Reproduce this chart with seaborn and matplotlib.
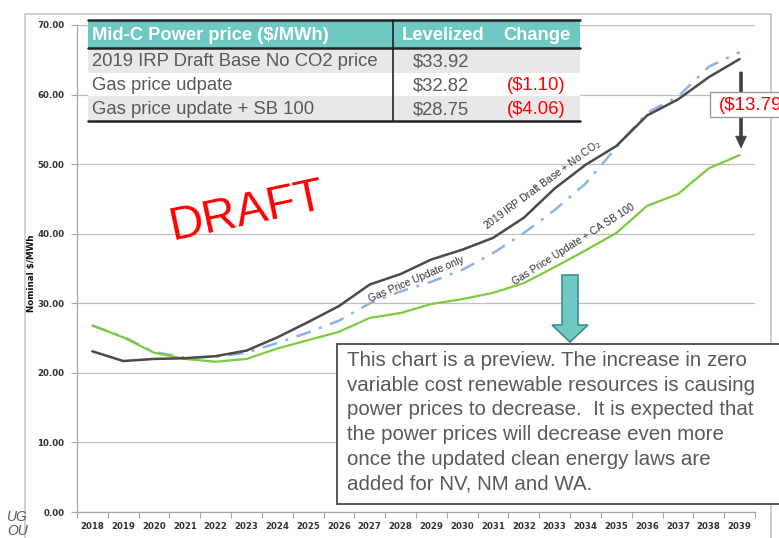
import numpy as np
import pandas as pd
import matplotlib
matplotlib.use("Agg")
import matplotlib.pyplot as plt
import seaborn as sns
from matplotlib.patches import Rectangle, FancyArrow

# --- data ---
years = list(range(2018, 2040))
irp_base = [23.1, 21.7, 22.0, 22.1, 22.4, 23.2, 25.1, 27.3, 29.6, 32.7, 34.2,
            36.3, 37.7, 39.4, 42.3, 46.5, 49.9, 52.6, 57.0, 59.3, 62.5, 65.1]
gas_update = [26.8, 25.2, 23.0, 22.2, 22.3, 22.9, 24.3, 25.8, 27.5, 30.0, 31.7,
              33.1, 34.8, 37.2, 40.1, 43.4, 47.2, 52.4, 57.4, 59.7, 64.0, 66.1]
gas_sb100 = [26.8, 25.1, 22.9, 22.0, 21.6, 22.0, 23.5, 24.7, 25.9, 27.9, 28.6,
             29.9, 30.6, 31.5, 32.9, 35.2, 37.6, 40.1, 44.0, 45.7, 49.4, 51.3]

table_header = ["Mid-C Power price ($/MWh)", "Levelized", "Change"]
table_rows = ["2019 IRP Draft Base No CO2 price", "Gas price udpate", "Gas price update + SB 100"]
table_levelized = ["$33.92", "$32.82", "$28.75"]
table_change = ["", "($1.10)", "($4.06)"]

note_text = ("This chart is a preview. The increase in zero\n"
             "variable cost renewable resources is causing\n"
             "power prices to decrease.  It is expected that\n"
             "the power prices will decrease even more\n"
             "once the updated clean energy laws are\n"
             "added for NV, NM and WA.")

df = pd.DataFrame({"year": years, "irp": irp_base, "gas": gas_update, "sb100": gas_sb100})

sns.set_theme(style="white")
plt.rcParams["font.family"] = ["Liberation Sans", "DejaVu Sans"]

W, H = 779, 538
fig = plt.figure(figsize=(W / 100, H / 100), dpi=100)


def fx(x):
    return x / W


def fy(y):
    return 1 - y / H


ax = fig.add_axes([fx(77), fy(512), fx(755) - fx(77), fy(25) - fy(512)])

sns.lineplot(data=df, x="year", y="gas", ax=ax, color="#8DB4E2", lw=1.8,
             linestyle=(0, (6, 3.5, 1.2, 3.5)), zorder=3)
sns.lineplot(data=df, x="year", y="sb100", ax=ax, color="#7DCB3F", lw=1.6, zorder=4)
sns.lineplot(data=df, x="year", y="irp", ax=ax, color="#4A4A4A", lw=1.8, zorder=5)

ax.set_xlim(2017.5, 2039.5)
ax.set_ylim(0, 70)
ax.set_yticks(np.arange(0, 71, 10))
ax.set_yticklabels([f"{v:.2f}" for v in np.arange(0, 71, 10)], fontsize=6.2,
                   color="#333333", fontweight="bold", family="DejaVu Sans")
ax.set_xticks(years)
ax.set_xticklabels([str(y) for y in years], fontsize=6.2, color="#333333",
                   fontweight="bold", family="DejaVu Sans")
ax.set_xticks(np.arange(2017.5, 2040, 1), minor=True)
ax.tick_params(axis="x", which="major", length=0, pad=7)
ax.tick_params(axis="x", which="minor", length=4, color="#A6A6A6", width=0.8, bottom=True)
ax.tick_params(axis="y", length=4, color="#A6A6A6", width=0.8, pad=5, left=True)
ax.grid(axis="y", color="#BFBFBF", lw=0.9)
ax.set_axisbelow(True)
for s in ["top", "right"]:
    ax.spines[s].set_visible(False)
for s in ["left", "bottom"]:
    ax.spines[s].set_color("#A6A6A6")
    ax.spines[s].set_linewidth(0.9)
ax.set_xlabel("")
ax.set_ylabel("Nominal $/MWh", fontsize=6.3, fontweight="bold", color="#111111",
              family="DejaVu Sans")
ax.yaxis.set_label_coords(-0.060, 0.49)

# line labels
ax.text(2032.6, 47.0, "2019 IRP Draft Base + No CO$_2$", rotation=36.5, fontsize=7.4,
        color="#333333", ha="center", va="center", zorder=6)
ax.text(2028.5, 33.4, "Gas Price Update only", rotation=23, fontsize=7.4,
        color="#333333", ha="center", va="center", zorder=6)
ax.text(2033.6, 38.5, "Gas Price Update + CA SB 100", rotation=32.5, fontsize=7.4,
        color="#333333", ha="center", va="center", zorder=6)

# DRAFT watermark
fig.text(fx(247), fy(212), "DRAFT", fontsize=34, color="#FF0000", rotation=12,
         ha="center", va="center")

# outer frame
fig.add_artist(Rectangle((fx(25), fy(545)), fx(771) - fx(25), fy(14) - fy(545),
                         transform=fig.transFigure, fill=False, ec="#C8C8C8", lw=1.2))

# table
tx0, tx1, tdiv = 88, 580, 393
rows_y = [20, 48, 73, 96, 121]
fig.add_artist(Rectangle((fx(tx0), fy(rows_y[1])), fx(tx1) - fx(tx0), fy(rows_y[0]) - fy(rows_y[1]),
                         transform=fig.transFigure, fc="#6EC9C3", ec="none", zorder=10))
for i, bg in enumerate(["#E8E8E8", "#FFFFFF", "#E8E8E8"]):
    fig.add_artist(Rectangle((fx(tx0), fy(rows_y[i + 2])), fx(tx1) - fx(tx0),
                             fy(rows_y[i + 1]) - fy(rows_y[i + 2]),
                             transform=fig.transFigure, fc=bg, ec="none", zorder=10))
for yy in [rows_y[0], rows_y[1], rows_y[4]]:
    fig.add_artist(plt.Line2D([fx(tx0), fx(tx1)], [fy(yy), fy(yy)], transform=fig.transFigure,
                              color="#222222", lw=1.8, zorder=11))
fig.add_artist(plt.Line2D([fx(tdiv), fx(tdiv)], [fy(rows_y[0]), fy(rows_y[4])],
                          transform=fig.transFigure, color="#222222", lw=1.2, zorder=11))

fig.text(fx(92), fy(35), table_header[0], fontsize=13.2, fontweight="bold", color="white",
         ha="left", va="center", zorder=12)
fig.text(fx(443), fy(35), table_header[1], fontsize=13.2, fontweight="bold", color="white",
         ha="center", va="center", zorder=12)
fig.text(fx(537), fy(35), table_header[2], fontsize=13.2, fontweight="bold", color="white",
         ha="center", va="center", zorder=12)
for i in range(3):
    cy = (rows_y[i + 1] + rows_y[i + 2]) / 2 + 1
    fig.text(fx(92), fy(cy), table_rows[i], fontsize=13.3, color="#595959",
             ha="left", va="center", zorder=12)
    fig.text(fx(413), fy(cy), table_levelized[i], fontsize=13.3, color="#595959",
             ha="left", va="center", zorder=12)
    fig.text(fx(536), fy(cy), table_change[i], fontsize=13.3, color="#FF0000",
             ha="center", va="center", zorder=12)

# teal arrow
fig.add_artist(FancyArrow(fx(570), fy(275), 0, fy(342) - fy(275), width=fx(578) - fx(562),
                          head_width=fx(588) - fx(552), head_length=fy(325) - fy(342),
                          length_includes_head=True, transform=fig.transFigure,
                          fc="#6EC9C3", ec="#3E8F89", lw=1.2, zorder=8))

# note box
fig.add_artist(Rectangle((fx(337), fy(504)), fx(800) - fx(337), fy(344) - fy(504),
                         transform=fig.transFigure, fc="white", ec="#555555", lw=1.4, zorder=9))
fig.text(fx(347), fy(351), note_text, fontsize=14.8, color="#595959", ha="left", va="top",
         linespacing=1.38, zorder=10)

# $13.79 callout with arrow (clipped at the right edge, as in the source)
fig.add_artist(FancyArrow(fx(741), fy(72), 0, fy(148) - fy(72), width=0.0035,
                          head_width=0.014, head_length=0.022, length_includes_head=True,
                          transform=fig.transFigure, fc="#404040", ec="#404040", lw=0.5, zorder=8))
fig.add_artist(Rectangle((fx(710), fy(117)), fx(800) - fx(710), fy(92) - fy(117),
                         transform=fig.transFigure, fc="white", ec="#9A9A9A", lw=1.0, zorder=9))
fig.text(fx(719), fy(105), "($13.79)", fontsize=13.5, color="#FF0000", ha="left", va="center",
         zorder=10)

# cut-off text at the left edge
fig.text(fx(7), fy(517), "UG", fontsize=10, style="italic", color="#595959", ha="left", va="center")
fig.text(fx(7), fy(531), "OU", fontsize=10, style="italic", color="#595959", ha="left", va="center")

fig.savefig("out.png", dpi=100)
